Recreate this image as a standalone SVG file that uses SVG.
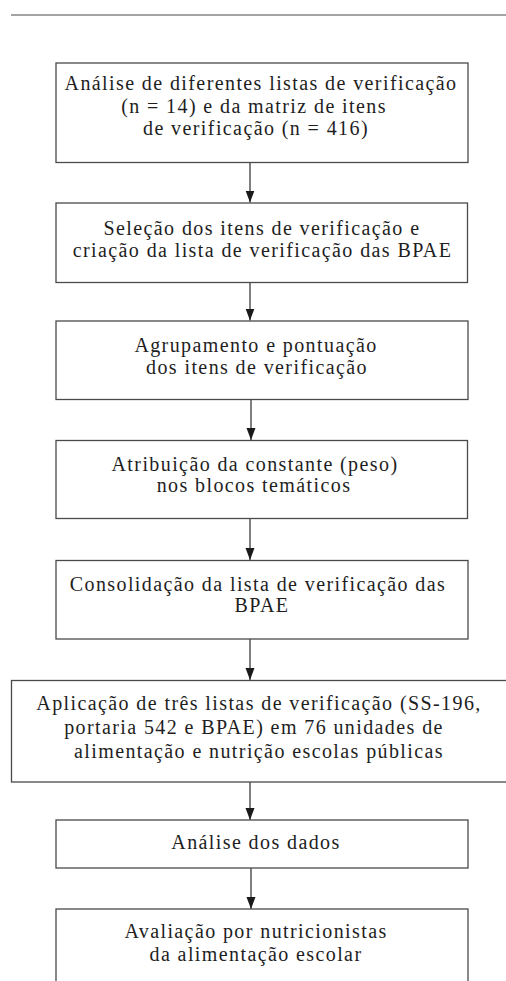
<svg xmlns="http://www.w3.org/2000/svg" width="506" height="981" viewBox="0 0 506 981">
<style>
  .box { fill: #ffffff; stroke: #4a4a4a; stroke-width: 1.3; }
  .lbl { font-family: 'Liberation Serif', serif; font-size: 20px; fill: #1e1e1e; text-anchor: middle; letter-spacing: 1.4px; }
  .conn { stroke: #2a2a2a; stroke-width: 1.2; fill: none; }
  .rule { stroke: #4a4a4a; stroke-width: 1.2; }
</style>
<defs>
  <marker id="arrow" markerWidth="13" markerHeight="10" refX="12" refY="5" orient="auto" markerUnits="userSpaceOnUse" viewBox="0 0 13 10">
    <path d="M0,0.5 L12,5 L0,9.5 Z" fill="#1a1a1a"/>
  </marker>
</defs>
<rect width="506" height="981" fill="#ffffff"/>
<line class="rule" x1="11" y1="15" x2="506" y2="15"/>

<g id="connectors">
  <line class="conn" x1="250" y1="162.5" x2="250" y2="202.5" marker-end="url(#arrow)"/>
  <line class="conn" x1="250" y1="282.5" x2="250" y2="320.5" marker-end="url(#arrow)"/>
  <line class="conn" x1="251" y1="399.5" x2="251" y2="440" marker-end="url(#arrow)"/>
  <line class="conn" x1="250" y1="518.5" x2="250" y2="560" marker-end="url(#arrow)"/>
  <line class="conn" x1="250" y1="639" x2="250" y2="680" marker-end="url(#arrow)"/>
  <line class="conn" x1="250" y1="782" x2="250" y2="820" marker-end="url(#arrow)"/>
  <line class="conn" x1="251" y1="868" x2="251" y2="909" marker-end="url(#arrow)"/>
</g>

<g id="node1">
  <rect class="box" x="56" y="63" width="412" height="99.5"/>
  <text class="lbl" x="261" y="90">Análise de diferentes listas de verificação</text>
  <text class="lbl" x="254" y="112.5">(n = 14) e da matriz de itens</text>
  <text class="lbl" x="256" y="135">de verificação (n = 416)</text>
</g>
<g id="node2">
  <rect class="box" x="56" y="203" width="411.5" height="79.5"/>
  <text class="lbl" x="262" y="234.5">Seleção dos itens de verificação e</text>
  <text class="lbl" x="262.5" y="256.5">criação da lista de verificação das BPAE</text>
</g>
<g id="node3">
  <rect class="box" x="56" y="321" width="412" height="78.5"/>
  <text class="lbl" x="256" y="351.5">Agrupamento e pontuação</text>
  <text class="lbl" x="257" y="373.5">dos itens de verificação</text>
</g>
<g id="node4">
  <rect class="box" x="56" y="440.5" width="411.5" height="78"/>
  <text class="lbl" x="255" y="470.5">Atribuição da constante (peso)</text>
  <text class="lbl" x="254" y="492">nos blocos temáticos</text>
</g>
<g id="node5">
  <rect class="box" x="56" y="560.5" width="412" height="78.5"/>
  <text class="lbl" x="258" y="591">Consolidação da lista de verificação das</text>
  <text class="lbl" x="262" y="612">BPAE</text>
</g>
<g id="node6">
  <rect class="box" x="11.5" y="680.5" width="520" height="101.5"/>
  <text class="lbl" x="259" y="710">Aplicação de três listas de verificação (SS-196,</text>
  <text class="lbl" x="254" y="734">portaria 542 e BPAE) em 76 unidades de</text>
  <text class="lbl" x="259" y="758">alimentação e nutrição escolas públicas</text>
</g>
<g id="node7">
  <rect class="box" x="56" y="820" width="412" height="48"/>
  <text class="lbl" x="256" y="848.5">Análise dos dados</text>
</g>
<g id="node8">
  <rect class="box" x="56" y="909" width="412" height="100"/>
  <text class="lbl" x="256" y="938">Avaliação por nutricionistas</text>
  <text class="lbl" x="256" y="961">da alimentação escolar</text>
</g>
</svg>
